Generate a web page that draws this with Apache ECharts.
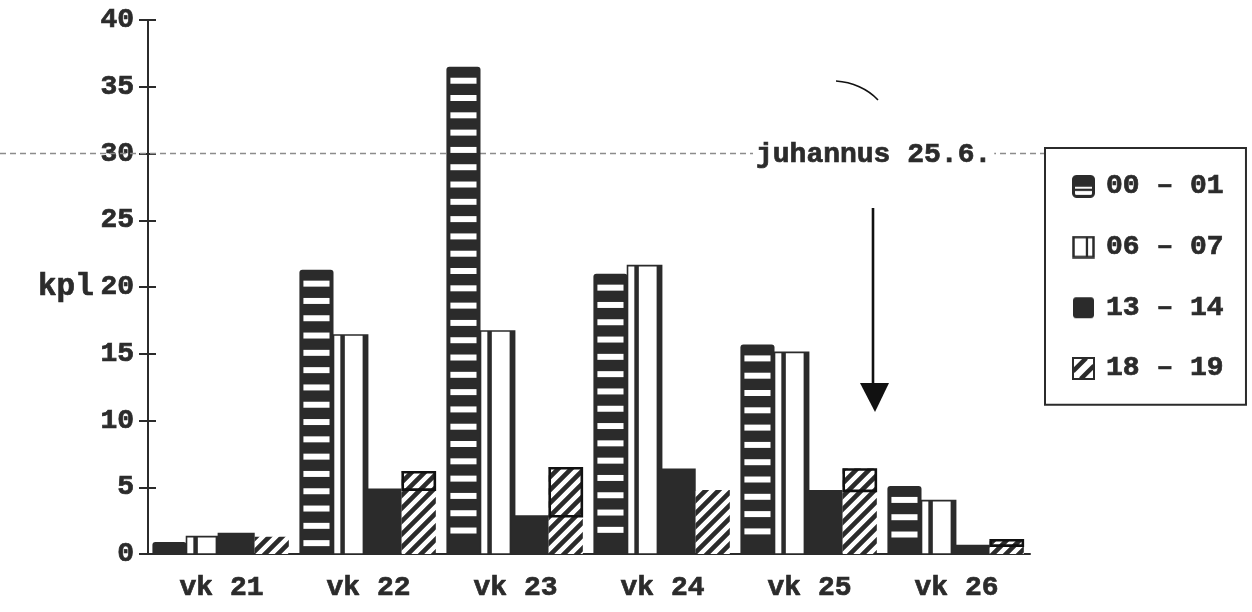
<!DOCTYPE html>
<html>
<head>
<meta charset="utf-8">
<script src="https://cdn.jsdelivr.net/npm/echarts@6/dist/echarts.min.js"></script>
<style>
  html, body { margin: 0; padding: 0; background: #fff; }
  #chart { width: 1252px; height: 612px; }
</style>
</head>
<body>
<div id="chart"></div>
<script>
// Weekly counts (kpl) for four one-hour periods of the day
const weeks = ['vk 21', 'vk 22', 'vk 23', 'vk 24', 'vk 25', 'vk 26'];
const hourNames = ['00 – 01', '06 – 07', '13 – 14', '18 – 19'];
const h00_01 = [0.9, 21.3, 36.5, 21.0, 15.7, 5.1];
const h06_07 = [1.3, 16.4, 16.7, 21.6, 15.1, 4.0];
const h13_14 = [1.6, 4.9, 2.9, 6.4, 4.8, 0.7];
const h18_19 = [1.3, 6.2, 6.5, 4.8, 6.4, 1.1];
const yTickValues = [0, 5, 10, 15, 20, 25, 30, 35, 40];
const yName = 'kpl';
const midsummerLevel = 30;
const midsummerText = 'juhannus 25.6.';

const INK = '#2b2b2b';
const FONT = '"Liberation Mono", "DejaVu Sans Mono", monospace';

// ---- fill textures ----
function makeCanvas(w, h) {
  const c = document.createElement('canvas');
  c.width = w; c.height = h;
  return c;
}
function hatchTile(s, lw) {
  const c = makeCanvas(s, s);
  const g = c.getContext('2d');
  g.fillStyle = '#fff';
  g.fillRect(0, 0, s, s);
  g.strokeStyle = INK;
  g.lineWidth = lw;
  g.beginPath();
  [0, s, 2 * s].forEach(k => {
    g.moveTo(k - s - 2, s + 2);
    g.lineTo(k + 2, -2);
  });
  g.stroke();
  return c;
}
const hatch = hatchTile(13, 4.6);

// ---- legend icons ----
function iconURL(draw) {
  const c = makeCanvas(46, 46);
  const g = c.getContext('2d');
  draw(g, 46);
  return 'image://' + c.toDataURL();
}
function roundRect(g, x, y, w, h, r) {
  g.beginPath();
  g.moveTo(x + r, y);
  g.arcTo(x + w, y, x + w, y + h, r);
  g.arcTo(x + w, y + h, x, y + h, r);
  g.arcTo(x, y + h, x, y, r);
  g.arcTo(x, y, x + w, y, r);
  g.closePath();
}
const icons = [
  iconURL((g, s) => {
    g.fillStyle = '#fff'; roundRect(g, 3, 3, s - 6, s - 6, 6); g.fill();
    g.fillStyle = INK; g.fillRect(3, 3, s - 6, s * 0.45);
    g.fillRect(3, s * 0.6, s - 6, s * 0.1);
    g.strokeStyle = INK; g.lineWidth = 6; roundRect(g, 3, 3, s - 6, s - 6, 6); g.stroke();
  }),
  iconURL((g, s) => {
    g.fillStyle = '#fff'; g.fillRect(3, 3, s - 6, s - 6);
    g.fillStyle = INK; g.fillRect(s * 0.6, 3, s * 0.1, s - 6);
    g.strokeStyle = INK; g.lineWidth = 5; g.strokeRect(3, 3, s - 6, s - 6);
  }),
  iconURL((g, s) => {
    g.fillStyle = INK; roundRect(g, 2, 2, s - 4, s - 4, 6); g.fill();
  }),
  iconURL((g, s) => {
    g.fillStyle = '#fff'; g.fillRect(2, 2, s - 4, s - 4);
    g.strokeStyle = INK; g.lineWidth = 9;
    g.beginPath();
    g.moveTo(2, s * 0.62); g.lineTo(s * 0.62, 2);
    g.moveTo(s * 0.38, s - 2); g.lineTo(s - 2, s * 0.38);
    g.stroke();
    g.lineWidth = 4; g.strokeRect(2, 2, s - 4, s - 4);
  })
];

// ---- bar geometry from the axes ----
function slot(api, k) {
  const cat = api.value(0);
  const val = api.value(1);
  const base = api.coord([cat, 0]);
  const top = api.coord([cat, val]);
  const band = api.size([1, 0])[0];
  const w = band * 0.232;
  const x = base[0] - band / 2 + band * 0.03 + k * w;
  return { cat, x, y: top[1], w, h: base[1] - top[1], base: base[1] };
}

const renderers = [
  // 00 – 01: dark bar with white horizontal bands
  function (params, api) {
    const b = slot(api, 0);
    const children = [{
      type: 'rect',
      shape: { x: b.x, y: b.y, width: b.w, height: b.h, r: [3, 3, 0, 0] },
      style: { fill: INK }
    }];
    for (let sy = b.y + 11; sy + 6 < b.base - 5; sy += 17.3) {
      children.push({
        type: 'rect',
        shape: { x: b.x + 4, y: sy, width: b.w - 8, height: 6 },
        style: { fill: '#fff' }
      });
    }
    return { type: 'group', children };
  },
  // 06 – 07: white bar with a dark inner rule and heavy right edge
  function (params, api) {
    const b = slot(api, 1);
    return {
      type: 'group',
      children: [
        { type: 'rect', shape: { x: b.x, y: b.y, width: b.w, height: b.h },
          style: { fill: '#fff', stroke: INK, lineWidth: 1.6 } },
        { type: 'rect', shape: { x: b.x + b.w * 0.2, y: b.y, width: 4.5, height: b.h },
          style: { fill: INK } },
        { type: 'rect', shape: { x: b.x + b.w - 5, y: b.y, width: 5, height: b.h },
          style: { fill: INK } }
      ]
    };
  },
  // 13 – 14: solid
  function (params, api) {
    const b = slot(api, 2);
    return {
      type: 'rect',
      shape: { x: b.x - 3, y: b.y, width: b.w + 3, height: b.h },
      style: { fill: INK }
    };
  },
  // 18 – 19: diagonal hatch, framed where it rises above the solid bar
  function (params, api) {
    const b = slot(api, 3);
    const children = [{
      type: 'rect',
      shape: { x: b.x, y: b.y, width: b.w, height: b.h },
      style: { fill: { image: hatch, repeat: 'repeat' } }
    }];
    const solidTop = api.coord([b.cat, h13_14[b.cat]])[1];
    if (solidTop > b.y + 4) {
      children.push({
        type: 'rect',
        shape: { x: b.x + 1, y: b.y + 1, width: b.w - 2, height: solidTop - b.y },
        style: { fill: null, stroke: '#111', lineWidth: 2.6 }
      });
    }
    return { type: 'group', children };
  }
];

const seriesValues = [h00_01, h06_07, h13_14, h18_19];

const labelText = {
  color: INK, fontFamily: FONT, fontWeight: 'bold',
  textBorderColor: INK, textBorderWidth: 0.7
};

const chart = echarts.init(document.getElementById('chart'), null, { renderer: 'canvas' });

const step = yTickValues[1] - yTickValues[0];
const axisLineStyle = { color: INK, width: 2 };

chart.setOption({
  animation: false,
  backgroundColor: '#fff',
  grid: { left: 148, right: 222, top: 20, bottom: 58, containLabel: false },
  legend: {
    orient: 'vertical',
    left: 1045, top: 148,
    padding: [24, 22, 22, 27],
    itemWidth: 23, itemHeight: 23, itemGap: 32,
    borderColor: INK, borderWidth: 2,
    backgroundColor: '#fff',
    selectedMode: false,
    data: hourNames.map((n, i) => ({ name: n, icon: icons[i] })),
    textStyle: Object.assign({ fontSize: 28, lineHeight: 23, padding: [0, 0, 0, 6] }, labelText)
  },
  xAxis: [{
    type: 'category',
    data: weeks,
    boundaryGap: true,
    axisLine: { lineStyle: axisLineStyle },
    axisTick: { length: 8, lineStyle: { color: INK, width: 2 } },
    axisLabel: Object.assign({ fontSize: 28, margin: 20 }, labelText)
  }, {
    type: 'category',
    data: weeks,
    position: 'bottom',
    axisLine: { show: false },
    axisTick: { inside: true, length: 6, lineStyle: { color: INK, width: 2 } },
    axisLabel: { show: false }
  }],
  yAxis: [{
    type: 'value',
    min: yTickValues[0], max: yTickValues[yTickValues.length - 1], interval: step,
    name: yName,
    nameLocation: 'middle', nameRotate: 0, nameGap: 48,
    nameTextStyle: Object.assign({ fontSize: 31, align: 'right', verticalAlign: 'middle' }, labelText),
    axisLine: { show: true, lineStyle: axisLineStyle },
    axisTick: { show: true, length: 9, lineStyle: { color: INK, width: 2 } },
    axisLabel: Object.assign({ fontSize: 28, margin: 14 }, labelText),
    splitLine: { show: false }
  }, {
    type: 'value',
    position: 'left',
    min: yTickValues[0], max: yTickValues[yTickValues.length - 1], interval: step,
    axisLine: { show: false },
    axisTick: { show: true, inside: true, length: 8, lineStyle: { color: INK, width: 2 } },
    axisLabel: { show: false },
    splitLine: { show: false }
  }],
  series: hourNames.map((name, k) => ({
    type: 'custom',
    name,
    xAxisIndex: 0, yAxisIndex: 0,
    renderItem: renderers[k],
    encode: { x: 0, y: 1 },
    data: seriesValues[k].map((v, i) => [i, v]),
    z: 3
  }))
});

// Midsummer reference line and annotation arrow
const yRef = chart.convertToPixel({ yAxisIndex: 0 }, midsummerLevel);
chart.setOption({
  graphic: [
    { type: 'line', z: 1, shape: { x1: 0, y1: yRef, x2: 1250, y2: yRef },
      style: { stroke: '#8c8c8c', lineWidth: 1.3, lineDash: [6, 4] } },
    { type: 'text', z: 5, x: 753, y: yRef + 1,
      style: {
        text: midsummerText,
        fontSize: 28, fontFamily: FONT, fontWeight: 'bold',
        fill: INK, stroke: INK, lineWidth: 0.7,
        verticalAlign: 'middle', align: 'left',
        backgroundColor: '#fff', padding: [2, 3]
      } },
    { type: 'bezierCurve', z: 5,
      shape: { x1: 836, y1: 81, cpx1: 852, cpy1: 82, cpx2: 868, cpy2: 89, x2: 878, y2: 100 },
      style: { stroke: '#111', lineWidth: 1.6, fill: null } },
    { type: 'line', z: 5, shape: { x1: 873, y1: 208, x2: 873, y2: 386 },
      style: { stroke: '#111', lineWidth: 2.6 } },
    { type: 'polygon', z: 5, shape: { points: [[860, 383], [889, 383], [875, 412]] },
      style: { fill: '#111' } }
  ]
});
</script>
</body>
</html>
